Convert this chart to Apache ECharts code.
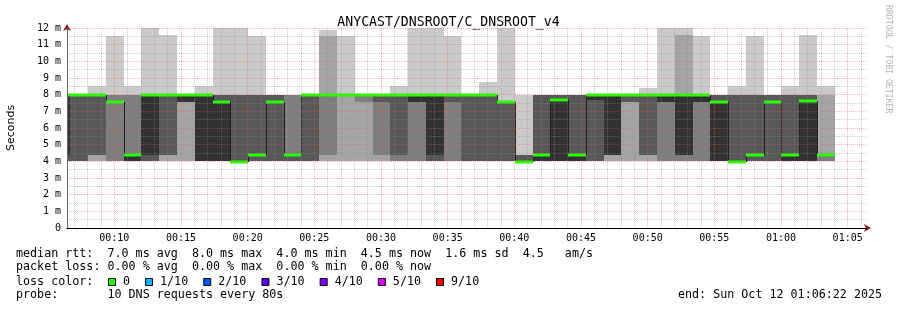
<!DOCTYPE html>
<html><head><meta charset="utf-8">
<script src="https://cdn.jsdelivr.net/npm/echarts@6/dist/echarts.min.js"></script>
<style>html,body{margin:0;padding:0;background:#fff}#c{width:897px;height:310px}</style>
</head><body><div id="c"></div>
<script>
// ---- data ----
const title = "ANYCAST/DNSROOT/C_DNSROOT_v4";
const axisStart = "00:06:27";
const axisEnd = "01:06:27";
const stepSec = 80;
const xTickLabels = ["00:10","00:15","00:20","00:25","00:30","00:35","00:40","00:45","00:50","00:55","01:00","01:05"];
const stepEnd = ["00:06:42","00:08:02","00:09:22","00:10:42","00:12:02","00:13:22","00:14:42","00:16:02","00:17:22","00:18:42",
  "00:20:02","00:21:22","00:22:42","00:24:02","00:25:22","00:26:42","00:28:02","00:29:22","00:30:42","00:32:02",
  "00:33:22","00:34:42","00:36:02","00:37:22","00:38:42","00:40:02","00:41:22","00:42:42","00:44:02","00:45:22",
  "00:46:42","00:48:02","00:49:22","00:50:42","00:52:02","00:53:22","00:54:42","00:56:02","00:57:22","00:58:42",
  "01:00:02","01:01:22","01:02:42","01:04:02"];
// sorted ping rtts (ms), ping1 = fastest ... ping10 = slowest
const ping1  = [4,4,4,4,4,4,4,4,4,4, 4,4,4,4,4,4,4,4,4,4, 4,4,4,4,4,4,4,4,4,4, 4,4,4,4,4,4,4,4,4,4, 4,4,4,4];
const ping2  = [4,4,4,4,4,4,4,4,4,4, 4,4,4,4,4,4,4,4,4,4, 4,4,4,4,4,4,4,4,4,4, 4,4,4,4,4,4,4,4,4,4, 4,4,4,4];
const ping3  = [4,4,4.4,4,4,4,4.4,7.55,4,4, 4,4,4,4,4.4,4.4,8,7.55,4.4,4, 4,4,4,4,4,4,4,4,4,4, 4,4.4,7.55,4.4,4,4,4,4,4,4, 4,4,4,4];
const ping4  = [4,4,4.4,7.55,4,4,4.4,7.55,4,4, 4,4,4,4,4,8,8,8,7.55,4.4, 7.55,4,7.55,4,4,4,4,4,4,4, 4,4.4,7.55,4.4,7.55,4.4,7.55,4,4,4, 4,4,4,4.4];
const ping5  = [4.4,8,8,7.55,4,4.4,8,7.55,4,4, 4,4.4,7.55,4.4,8,8,8,8,8,8, 7.55,4.4,8,8,8,7.55,4,4,4,4, 7.7,4.4,8,8,7.55,4.4,7.55,4,4,4.4, 7.55,4,4,4.4];
const ping6  = [8,8,8,7.55,4.4,8,8,8,8,7.55, 4,4.4,7.55,4.4,8,8,8,8,8,8, 8,8,8,8,8,7.55,4,4.4,7.65,4.4, 8,8,8,8,8,8,8,7.55,4,4.4, 7.55,4.4,7.6,4.4];
const ping7  = [8,8,8,7.55,4.4,8,8,8,8,8, 8,8,8,4.4,8,8,8,8,8,8, 8,8,8,8,8,7.55,4.4,8,8,8, 8,8,8,8,8,8,8,8,8,8, 8,8,8,4.4];
const ping8  = [8,8,8,8,8,8,8,8,8,8, 8,8,8,8,8,8,8,8,8,8, 8,8,8,8,8,7.55,4.4,8,8,8, 8,8,8,8,8,8,8,8,8,8, 8,8,8,4.4];
const ping9  = [8,8,8,8,8,8,8,8,8,8, 8,8,8,8,8,11.5,8,8,8,8, 8,8,8,8,8,7.55,4.4,8,8,8, 8,8,8,8,8,11.6,8,8,8,8, 8,8,8,8];
const ping10 = [8,8,8.5,11.5,8.5,12,11.6,8,8.5,12, 12,11.5,8,8,8,11.9,11.5,8,8,8.5, 12,12,11.5,8,8.76,12,8,8,8,8, 8,8,8,8.4,12,12,11.5,8,8.5,11.5, 8,8.5,11.6,8.5];
const median = [8,8,8,7.55,4.4,8,8,8,8,7.55, 3.96,4.4,7.55,4.4,8,8,8,8,8,8, 8,8,8,8,8,7.55,3.96,4.4,7.65,4.4, 8,8,8,8,8,8,8,7.55,3.96,4.4, 7.55,4.4,7.6,4.4];
const lossIdx = [0,0,0,0,0,0,0,0,0,0, 0,0,0,0,0,0,0,0,0,0, 0,0,0,0,0,0,0,0,0,0, 0,0,0,0,0,0,0,0,0,0, 0,0,0,0];
const lossLabels = ["0","1/10","2/10","3/10","4/10","5/10","9/10"];
const lossColors = ["#26ff00","#00b8ff","#0059ff","#5e00ff","#7e00ff","#dd00ff","#ff0000"];
const statLines = [
  "median rtt:  7.0 ms avg  8.0 ms max  4.0 ms min  4.5 ms now  1.6 ms sd  4.5   am/s",
  "packet loss: 0.00 % avg  0.00 % max  0.00 % min  0.00 % now",
  "loss color:",
  "probe:       10 DNS requests every 80s"
];
const endText = "end: Sun Oct 12 01:06:22 2025";
const sideText = "RRDTOOL / TOBI OETIKER";

// ---- styling ----
const smokeColors = ["#cacaca","#a4a4a4","#7e7e7e","#585858","#323232"];
const mono = "'DejaVu Sans Mono', monospace";
const arrowRed = '#8b1a1a';
const pings = [ping1,ping2,ping3,ping4,ping5,ping6,ping7,ping8,ping9,ping10];
const toSec = s => { const p = s.split(':').map(Number); return p[0]*3600 + p[1]*60 + p[2]; };
const pad = n => String(n).padStart(2,'0');
const fmt = v => pad(Math.floor(v/3600)) + ':' + pad(Math.floor(v/60)%60);
const xMin = toSec(axisStart), xMax = toSec(axisEnd);
const majorTicks = xTickLabels.map(s => toSec(s + ":00"));
const minorTicks = [];
for (let t = Math.ceil(xMin/60)*60; t < xMax; t += 60) if (t % 300 !== 0) minorTicks.push(t);

function renderSmoke(params, api) {
  const i = params.dataIndex;
  const t1 = api.value(0);
  const t0 = Math.max(t1 - stepSec, xMin);
  const X0 = Math.round(api.coord([t0, 0])[0]);
  const X1 = Math.round(api.coord([t1, 0])[0]);
  const ch = [];
  for (let k = 0; k < 5; k++) {
    const lo = pings[k][i], hi = pings[9-k][i];
    if (hi <= lo) continue;
    const yT = Math.round(api.coord([t1, hi])[1]);
    const yB = Math.round(api.coord([t1, lo])[1]);
    ch.push({type:'rect', shape:{x:X0, y:yT, width:X1-X0, height:yB-yT}, style:{fill:smokeColors[k]}});
  }
  const ym = Math.round(api.coord([t1, median[i]])[1]);
  if (i > 0) {
    const yp = Math.round(api.coord([t0, median[i-1]])[1]);
    ch.push({type:'line', shape:{x1:X0+0.5, y1:yp, x2:X0+0.5, y2:ym}, style:{stroke:'#202020', lineWidth:1}});
  }
  ch.push({type:'rect', shape:{x:X0, y:ym-1.5, width:X1-X0, height:3}, style:{fill:lossColors[lossIdx[i]]}});
  return {type:'group', children:ch};
}

const graphics = [];
statLines.forEach((s, r) => graphics.push({type:'text', left:16, top:[247.5,261,275.5,289][r],
  style:{text:s, font:"11.7px " + mono, fill:'#000'}}));
let bx = 108;
lossLabels.forEach((lab, k) => {
  graphics.push({type:'rect', shape:{x:bx+0.5, y:278.5, width:7, height:7}, style:{fill:lossColors[k], stroke:'#000', lineWidth:1}});
  graphics.push({type:'text', left:bx+15, top:275.5, style:{text:lab, font:"11.7px " + mono, fill:'#000'}});
  bx = bx + 15 + lab.length*7.05 + 15;
});
graphics.push({type:'text', left:678, top:289, style:{text:endText, font:"11.7px " + mono, fill:'#000'}});
graphics.push({type:'text', x:892, y:5, rotation:-Math.PI/2, style:{text:sideText, font:"8.2px " + mono, fill:'#b4b4b4'}});

const chart = echarts.init(document.getElementById('c'));
chart.setOption({
  animation:false,
  backgroundColor:'#fff',
  title:{text:title, left:'center', top:11, textStyle:{fontFamily:mono, fontSize:13.2, fontWeight:'normal', color:'#000'}},
  grid:{left:67, top:28, width:800, height:200, outerBoundsMode:'none', containLabel:false},
  xAxis:[{
    type:'value', min:xMin, max:xMax, z:12, position:'bottom',
    axisLine:{show:true, onZero:false, lineStyle:{color:'#000', width:1}},
    axisTick:{show:false, customValues:majorTicks},
    axisLabel:{customValues:majorTicks, formatter:fmt, fontFamily:mono, fontSize:10, color:'#000', margin:5},
    splitLine:{show:true, lineStyle:{color:'rgba(235,90,90,0.45)', type:[1,1], width:1}}
  },{
    type:'value', min:xMin, max:xMax, z:9, gridIndex:0, position:'bottom', offset:0,
    axisLine:{show:true, onZero:false, lineStyle:{color:arrowRed, width:1}, symbol:['none','arrow'], symbolSize:[6,7], symbolOffset:[0,4]},
    axisLabel:{show:false},
    axisTick:{show:false, customValues:minorTicks},
    splitLine:{show:true, lineStyle:{color:'rgba(140,140,140,0.45)', type:[1,1], width:1}}
  }],
  yAxis:[{
    type:'value', min:0, max:12, interval:1, z:12, position:'left',
    name:'Seconds', nameLocation:'middle', nameGap:50, nameRotate:90,
    nameTextStyle:{fontFamily:"'DejaVu Sans', sans-serif", fontSize:11, color:'#000'},
    axisLine:{show:true, onZero:false, lineStyle:{color:'#666', width:1}},
    axisTick:{show:false},
    axisLabel:{formatter:v => v === 0 ? '0' : v + ' m', fontFamily:mono, fontSize:10, color:'#000', margin:6},
    splitLine:{show:true, lineStyle:{color:'rgba(235,90,90,0.45)', type:[1,1], width:1}},
    minorTick:{show:false, splitNumber:2},
    minorSplitLine:{show:true, lineStyle:{color:'rgba(140,140,140,0.45)', type:[1,1], width:1}}
  },{
    type:'value', min:0, max:12, interval:1, z:9, position:'left', offset:0,
    axisLine:{show:true, onZero:false, lineStyle:{color:arrowRed, width:1}, symbol:['none','arrow'], symbolSize:[6,7], symbolOffset:[0,4]},
    axisTick:{show:false}, axisLabel:{show:false}, splitLine:{show:false}
  }],
  series:[{
    type:'custom', xAxisIndex:0, yAxisIndex:0,
    renderItem:renderSmoke,
    encode:{x:0, y:1},
    data:stepEnd.map((s,i) => [toSec(s), median[i]])
  }],
  graphic:graphics
});
</script></body></html>
